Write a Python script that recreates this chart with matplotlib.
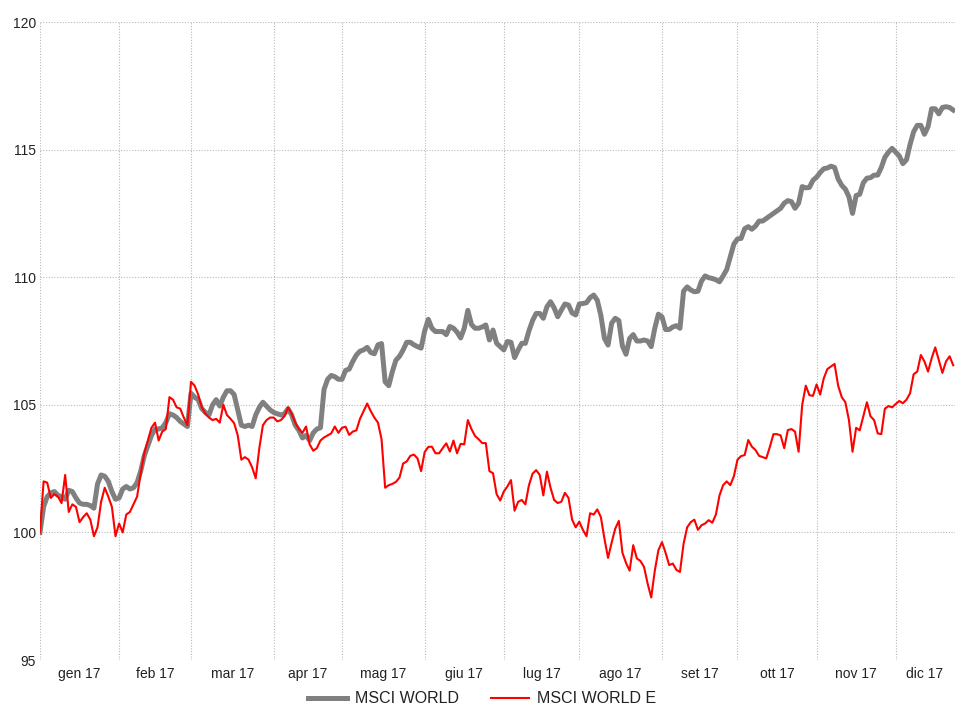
import matplotlib
matplotlib.use("Agg")
from matplotlib import pyplot as plt
import numpy as np

# dati (un punto per giorno di borsa, base 100)
msci_world = [
    100.0, 101.0, 101.4, 101.55, 101.6, 101.45, 101.4, 101.3, 101.65, 101.6,
    101.35, 101.15, 101.1, 101.1, 101.05, 100.95, 101.9, 102.25, 102.2, 102.0,
    101.6, 101.3, 101.35, 101.7, 101.8, 101.7, 101.75, 101.95, 102.4, 103.0,
    103.4, 103.8, 104.05, 104.05, 104.1, 104.3, 104.65, 104.6, 104.5, 104.35,
    104.25, 104.15, 105.45, 105.3, 105.2, 104.85, 104.7, 104.6, 105.0, 105.2,
    104.95, 105.3, 105.55, 105.55, 105.4, 104.8, 104.2, 104.15, 104.2, 104.15,
    104.6, 104.9, 105.1, 104.95, 104.8, 104.7, 104.65, 104.6, 104.65, 104.85,
    104.6, 104.2, 104.0, 103.7, 103.8, 103.6, 103.9, 104.05, 104.1, 105.6,
    106.0, 106.15, 106.1, 106.0, 106.0, 106.35, 106.4, 106.7, 106.95, 107.1,
    107.15, 107.25, 107.05, 107.0, 107.35, 107.4, 105.9, 105.75, 106.3, 106.75,
    106.9, 107.15, 107.45, 107.45, 107.35, 107.28, 107.22, 107.9, 108.35, 108.0,
    107.87, 107.87, 107.87, 107.75, 108.07, 108.0, 107.85, 107.62, 108.0, 108.7,
    108.15, 108.0, 108.0, 108.05, 108.13, 107.54, 107.93, 107.41, 107.28, 107.15,
    107.48, 107.45, 106.85, 107.15, 107.41, 107.41, 107.9, 108.3, 108.58, 108.58,
    108.39, 108.84, 109.04, 108.8, 108.45, 108.71, 108.95, 108.91, 108.6, 108.52,
    108.95, 108.97, 109.0, 109.2, 109.3, 109.1, 108.5, 107.6, 107.34, 108.2,
    108.39, 108.3, 107.3, 106.98, 107.6, 107.75, 107.5, 107.5, 107.54, 107.5,
    107.28, 108.0, 108.55, 108.45, 107.95, 107.95, 108.05, 108.1, 108.0, 109.45,
    109.62, 109.5, 109.43, 109.45, 109.85, 110.05, 109.98, 109.95, 109.9, 109.82,
    110.05, 110.3, 110.8, 111.3, 111.5, 111.52, 111.9, 111.98, 111.88, 112.0,
    112.2, 112.2, 112.3, 112.4, 112.5, 112.6, 112.7, 112.9, 113.0, 112.96,
    112.7, 112.9, 113.55, 113.5, 113.52, 113.8, 113.92, 114.1, 114.25, 114.28,
    114.35, 114.3, 113.85, 113.6, 113.45, 113.15, 112.5, 113.2, 113.25, 113.7,
    113.88, 113.9, 114.0, 114.0, 114.3, 114.7, 114.9, 115.05, 114.9, 114.75,
    114.45, 114.6, 115.2, 115.7, 115.95, 115.95, 115.6, 115.9, 116.6, 116.6,
    116.4, 116.65, 116.68, 116.65, 116.55,
]

msci_world_e = [
    100.0, 102.0, 101.95, 101.35, 101.5, 101.4, 101.15, 102.25, 100.8, 101.1,
    101.0, 100.4, 100.6, 100.75, 100.5, 99.85, 100.2, 101.2, 101.75, 101.4,
    101.0, 99.85, 100.35, 100.0, 100.7, 100.8, 101.1, 101.4, 102.3, 103.1,
    103.6, 104.1, 104.3, 103.6, 103.95, 104.05, 105.3, 105.2, 104.9, 104.85,
    104.5, 104.2, 105.9, 105.75, 105.4, 104.9, 104.65, 104.5, 104.4, 104.45,
    104.3, 105.0, 104.6, 104.45, 104.28, 103.8, 102.85, 102.95, 102.85, 102.55,
    102.12, 103.3, 104.2, 104.4, 104.5, 104.5, 104.35, 104.4, 104.55, 104.9,
    104.65, 104.3, 104.05, 103.9, 104.15, 103.45, 103.2, 103.3, 103.6, 103.72,
    103.8, 103.88, 104.15, 103.9, 104.1, 104.14, 103.82, 103.95, 104.0, 104.45,
    104.75, 105.05, 104.75, 104.5, 104.3, 103.65, 101.75, 101.85, 101.9, 101.98,
    102.15, 102.7, 102.78, 103.0, 103.05, 102.9, 102.4, 103.15, 103.35, 103.36,
    103.1, 103.1, 103.3, 103.49, 103.17, 103.6, 103.1, 103.47, 103.45, 104.4,
    104.05, 103.78, 103.65, 103.5, 103.5, 102.4, 102.32, 101.5, 101.25, 101.6,
    101.8, 102.05, 100.85, 101.2, 101.27, 101.1, 101.85, 102.3, 102.44, 102.25,
    101.45, 102.38, 101.75, 101.27, 101.15, 101.2, 101.55, 101.35, 100.5, 100.2,
    100.42, 100.1, 99.85, 100.75, 100.7, 100.9, 100.6, 99.75, 99.0, 99.6,
    100.15, 100.45, 99.2, 98.8, 98.5, 99.5, 98.98, 98.88, 98.65, 98.0,
    97.45, 98.5, 99.3, 99.62, 99.2, 98.72, 98.78, 98.53, 98.45, 99.55,
    100.2, 100.4, 100.5, 100.1, 100.28, 100.35, 100.48, 100.38, 100.7, 101.45,
    101.85, 102.0, 101.85, 102.2, 102.85, 102.99, 103.03, 103.62, 103.36, 103.23,
    103.0, 102.95, 102.9, 103.35, 103.85, 103.85, 103.8, 103.3, 104.01, 104.05,
    103.95, 103.16, 105.0, 105.75, 105.38, 105.35, 105.8, 105.4, 106.04, 106.4,
    106.5, 106.6, 105.75, 105.3, 105.1, 104.4, 103.16, 104.1, 104.0, 104.55,
    105.1, 104.55, 104.4, 103.88, 103.85, 104.85, 104.95, 104.9, 105.03, 105.15,
    105.06, 105.2, 105.45, 106.2, 106.3, 106.95, 106.7, 106.3, 106.82, 107.25,
    106.75, 106.25, 106.7, 106.9, 106.55,
]

# primo giorno di borsa di ogni mese (indice) e etichette
month_start = [0, 22, 42, 65, 84, 107, 129, 150, 173, 194, 216, 238]
month_labels = ['gen 17', 'feb 17', 'mar 17', 'apr 17', 'mag 17', 'giu 17',
                'lug 17', 'ago 17', 'set 17', 'ott 17', 'nov 17', 'dic 17']

plt.rcParams['font.family'] = ['Liberation Sans', 'DejaVu Sans']

x = np.arange(len(msci_world))
x_end = len(msci_world) - 0.5

fig = plt.figure(figsize=(9.55, 7.08), dpi=100)
ax = fig.add_axes([40 / 955, 1 - 660 / 708, 1 - 40 / 955, (660 - 22) / 708])

ax.plot(x, msci_world, color='#808080', linewidth=3.6, label='MSCI WORLD',
        solid_joinstyle='round', zorder=3)
ax.plot(x, msci_world_e, color='#ff0000', linewidth=1.5, label='MSCI WORLD E',
        zorder=4)

ax.set_xlim(0, x_end)
ax.set_ylim(95, 120)
ax.set_yticks([95, 100, 105, 110, 115, 120])

# griglia sui cambi mese, etichette a metà mese
ax.set_xticks(month_start)
ax.set_xticklabels([])
mids = [(a + b) / 2 for a, b in zip(month_start, month_start[1:] + [254])]
ax.set_xticks(mids, minor=True)
ax.set_xticklabels(month_labels, minor=True)

ax.grid(True, which='major', color='#b8b8b8', linestyle=(0, (1, 1.5)), linewidth=0.8)
ax.tick_params(axis='both', which='both', length=0, colors='#222222', labelsize=10)
ax.tick_params(axis='y', pad=3)
ax.tick_params(axis='x', which='minor', pad=5)
for s in ax.spines.values():
    s.set_visible(False)

fig.legend(loc='lower center', ncol=2, frameon=False, bbox_to_anchor=(0.505, -0.018),
           fontsize=11.5, handlelength=2.4, handletextpad=0.5, columnspacing=2.0,
           labelcolor='#222222')

fig.savefig('out.png', dpi=100)
